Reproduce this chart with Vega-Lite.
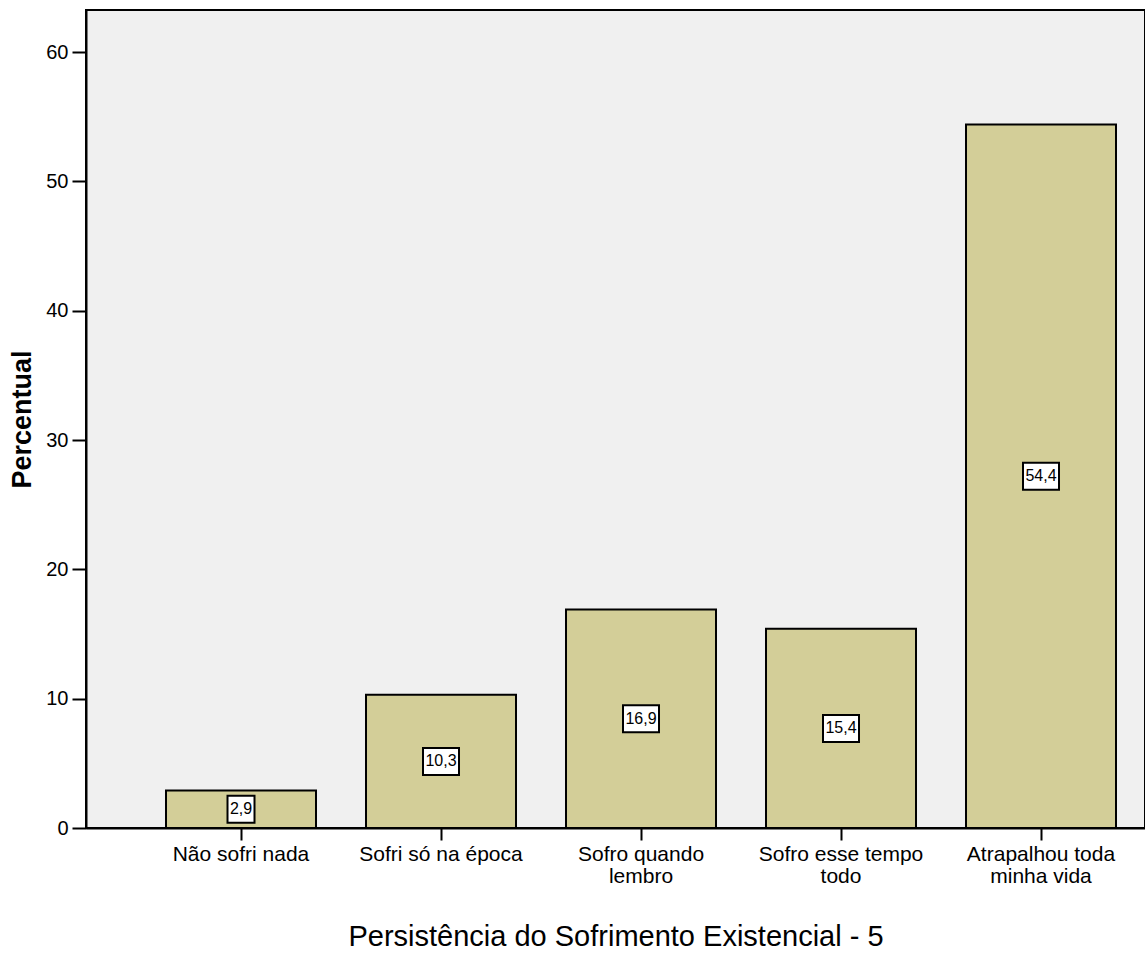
{
  "$schema": "https://vega.github.io/schema/vega-lite/v6.json",
  "width": 1059,
  "height": 818,
  "autosize": "none",
  "padding": {"left": 86, "top": 10, "right": 0, "bottom": 131},
  "background": "white",
  "config": {
    "font": "Liberation Sans",
    "view": {"stroke": "black", "strokeWidth": 2, "fill": "#f0f0f0"},
    "locale": {"number": {"decimal": ",", "thousands": ".", "grouping": [3], "currency": ["", ""]}}
  },
  "data": {
    "values": [
      {"cat": "Não sofri nada", "pct": 2.9},
      {"cat": "Sofri só na época", "pct": 10.3},
      {"cat": "Sofro quando lembro", "pct": 16.9},
      {"cat": "Sofro esse tempo todo", "pct": 15.4},
      {"cat": "Atrapalhou toda minha vida", "pct": 54.4}
    ]
  },
  "layer": [
    {
      "mark": {"type": "bar", "fill": "#d3ce98", "stroke": "black", "strokeWidth": 2},
      "encoding": {
        "x": {
          "field": "cat", "type": "nominal", "sort": null,
          "scale": {"paddingInner": 0.25, "paddingOuter": 0.2725, "align": 0.734},
          "axis": {
            "title": "Persistência do Sofrimento Existencial - 5",
            "titleFontSize": 29, "titleFontWeight": "normal", "titleColor": "black", "titlePadding": 36,
            "labelAngle": 0, "labelFontSize": 21, "labelColor": "black", "labelPadding": 3, "labelLineHeight": 22, "labelLimit": 400,
            "labelExpr": "datum.value == 'Sofro quando lembro' ? ['Sofro quando', 'lembro'] : datum.value == 'Sofro esse tempo todo' ? ['Sofro esse tempo', 'todo'] : datum.value == 'Atrapalhou toda minha vida' ? ['Atrapalhou toda', 'minha vida'] : datum.value",
            "tickSize": 12, "tickWidth": 2, "tickColor": "black", "domainColor": "black", "domainWidth": 2
          }
        },
        "y": {
          "field": "pct", "type": "quantitative",
          "scale": {"domain": [0, 63.26], "nice": false, "zero": true},
          "axis": {
            "title": "Percentual", "titleFontSize": 27, "titleFontWeight": "bold", "titleColor": "black", "titlePadding": 9,
            "values": [0, 10, 20, 30, 40, 50, 60], "grid": false,
            "tickSize": 14, "tickWidth": 2, "tickColor": "black", "domainColor": "black", "domainWidth": 2,
            "labelFontSize": 20, "labelColor": "black", "labelPadding": 4
          }
        }
      }
    },
    {
      "layer": [
        {
          "mark": {"type": "point", "filled": true, "fill": "white", "stroke": "black", "strokeWidth": 2, "opacity": 1, "fillOpacity": 1, "size": 2500},
          "encoding": {
            "x": {"field": "cat", "type": "nominal", "sort": null},
            "y": {"field": "pct", "type": "quantitative", "scale": {"domain": [0, 126.52], "nice": false, "zero": true}, "axis": null},
            "shape": {
              "condition": {"test": "datum.pct >= 10", "value": "M-0.72,-0.54H0.72V0.54H-0.72Z"},
              "value": "M-0.54,-0.54H0.54V0.54H-0.54Z"
            }
          }
        },
        {
          "mark": {"type": "text", "fontSize": 16, "color": "black", "baseline": "middle", "align": "center"},
          "encoding": {
            "x": {"field": "cat", "type": "nominal", "sort": null},
            "y": {"field": "pct", "type": "quantitative", "scale": {"domain": [0, 126.52], "nice": false, "zero": true}, "axis": null},
            "text": {"field": "pct", "type": "quantitative", "format": ".1f"}
          }
        }
      ]
    }
  ],
  "resolve": {"scale": {"y": "independent"}}
}
